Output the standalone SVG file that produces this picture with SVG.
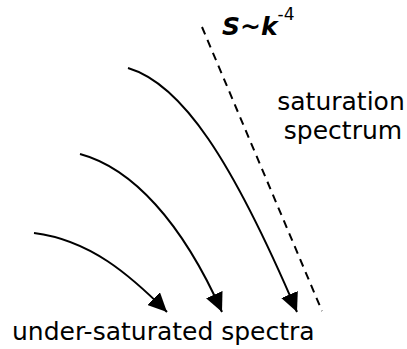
<svg xmlns="http://www.w3.org/2000/svg" width="407" height="349" viewBox="0 0 407 349">
<style>
.c{fill:none;stroke:#000;stroke-width:2}
.t{font-family:"DejaVu Sans",sans-serif;font-size:25px;fill:#000}
</style>
<defs>
<marker id="ah" markerUnits="userSpaceOnUse" markerWidth="20" markerHeight="18" refX="19" refY="9" orient="auto">
<path d="M0,0 L19,9 L0,18 Z" fill="#000"/>
</marker>
</defs>
<rect width="407" height="349" fill="#fff"/>
<g id="connectors">
<path class="c" d="M128,68 C182,84 232,160 297,312" marker-end="url(#ah)"/>
<path class="c" d="M80,154 C132,168 182,222 222,312" marker-end="url(#ah)"/>
<path class="c" d="M34,233 C90,240 130,275 167,312" marker-end="url(#ah)"/>
<path class="c" d="M202,27 L322,311" stroke-dasharray="8,6"/>
</g>
<g id="law">
<text class="t" x="222" y="35" font-weight="bold" font-style="italic">S~k<tspan font-size="17" dy="-15" font-weight="normal" font-style="normal">-4</tspan></text>
</g>
<g id="saturation">
<text class="t" x="341" y="110" text-anchor="middle">saturation</text>
<text class="t" x="343" y="139" text-anchor="middle">spectrum</text>
</g>
<g id="under">
<text class="t" x="12" y="340">under-saturated spectra</text>
</g>
</svg>
